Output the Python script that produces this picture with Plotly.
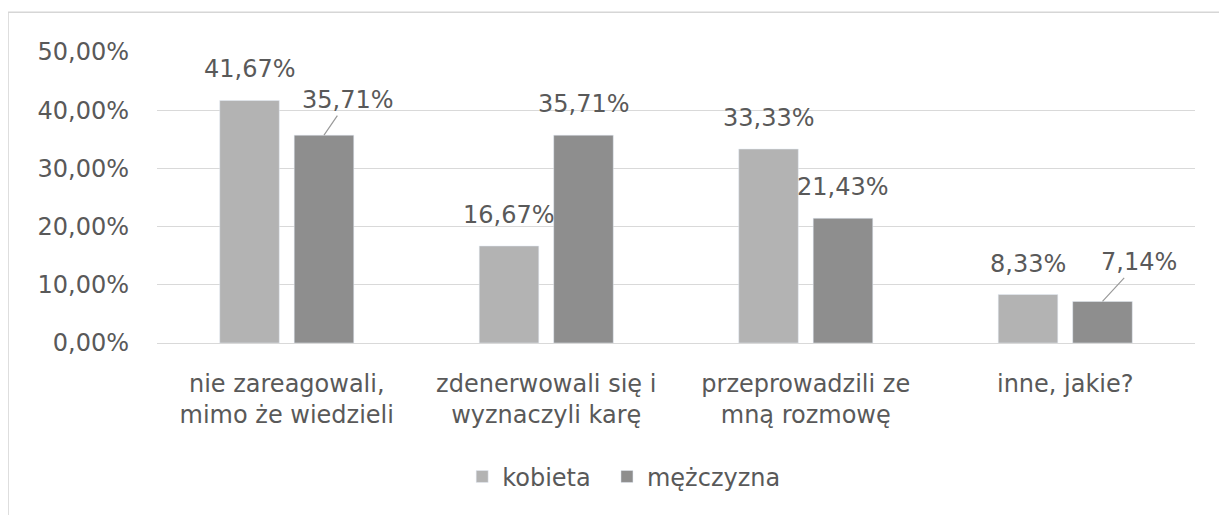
import plotly.graph_objects as go

categories = ["nie zareagowali,<br>mimo że wiedzieli", "zdenerwowali się i<br>wyznaczyli karę",
              "przeprowadzili ze<br>mną rozmowę", "inne, jakie?"]
kobieta = [0.4167, 0.1667, 0.3333, 0.0833]
mezczyzna = [0.3571, 0.3571, 0.2143, 0.0714]
series_names = ["kobieta", "mężczyzna"]
y_ticks = [0, 0.1, 0.2, 0.3, 0.4, 0.5]
y_tick_labels = ["0,00%", "10,00%", "20,00%", "30,00%", "40,00%", "50,00%"]

TXT = "#595959"
FONT = "DejaVu Sans"
NUM_SIZE = 24

def pl(v):
    return f"{v*100:.2f}%".replace(".", ",")

fig = go.Figure()
fig.add_trace(go.Bar(x=categories, y=kobieta, name=series_names[0], marker_color="#b3b3b3",
                     legend="legend"))
fig.add_trace(go.Bar(x=categories, y=mezczyzna, name=series_names[1], marker_color="#8e8e8e",
                     legend="legend2"))

ann = []
# labels with leader lines: (series, index) -> (ax, ay)
leader = {(1, 0): (24, -35), (1, 3): (36, -39)}
for s, vals in enumerate([kobieta, mezczyzna]):
    xs = -37.25 if s == 0 else 37.25
    for i, v in enumerate(vals):
        if (s, i) in leader:
            ax, ay = leader[(s, i)]
            ann.append(dict(x=categories[i], y=v, xref="x", yref="y", text=pl(v),
                            showarrow=True, arrowhead=0, arrowwidth=1.2, arrowcolor="#9a9a9a",
                            ax=ax, ay=ay, xshift=xs, standoff=0,
                            font=dict(family=FONT, size=NUM_SIZE, color=TXT)))
        else:
            ann.append(dict(x=categories[i], y=v, xref="x", yref="y", text=pl(v),
                            showarrow=False, xshift=xs, yshift=15, yanchor="bottom",
                            font=dict(family=FONT, size=NUM_SIZE, color=TXT)))

shapes = [
    dict(type="line", xref="paper", yref="paper", x0=-0.1435, x1=1.06, y0=1.137, y1=1.137,
         line=dict(color="#d6d6d6", width=1.5)),
    dict(type="line", xref="paper", yref="paper", x0=-0.1435, x1=-0.1435, y0=1.137, y1=-0.65,
         line=dict(color="#d6d6d6", width=1.5)),
]

legend_style = dict(orientation="h", xanchor="left", y=-0.46, yanchor="middle",
                    font=dict(family=FONT, size=24, color=TXT), itemwidth=30)

fig.update_layout(
    width=1227, height=515,
    margin=dict(l=149, r=40, t=44, b=180),
    paper_bgcolor="white", plot_bgcolor="white",
    barmode="group", bargap=0.426, bargroupgap=0.2,
    font=dict(family=FONT, color=TXT),
    showlegend=True,
    legend=dict(x=0.294, **legend_style),
    legend2=dict(x=0.4335, **legend_style),
    annotations=ann,
    shapes=shapes,
)
fig.update_yaxes(range=[0, 0.5], tickvals=y_ticks, ticktext=y_tick_labels,
                 tickfont=dict(family=FONT, size=NUM_SIZE, color=TXT),
                 showgrid=True, gridcolor="#d9d9d9", gridwidth=1, zeroline=False,
                 showline=False, ticks="", ticklabelstandoff=27)
fig.update_xaxes(tickfont=dict(family=FONT, size=24, color=TXT), showline=True,
                 linecolor="#d9d9d9", linewidth=1, ticks="", ticklabelstandoff=19)

fig.write_html("out.html")
